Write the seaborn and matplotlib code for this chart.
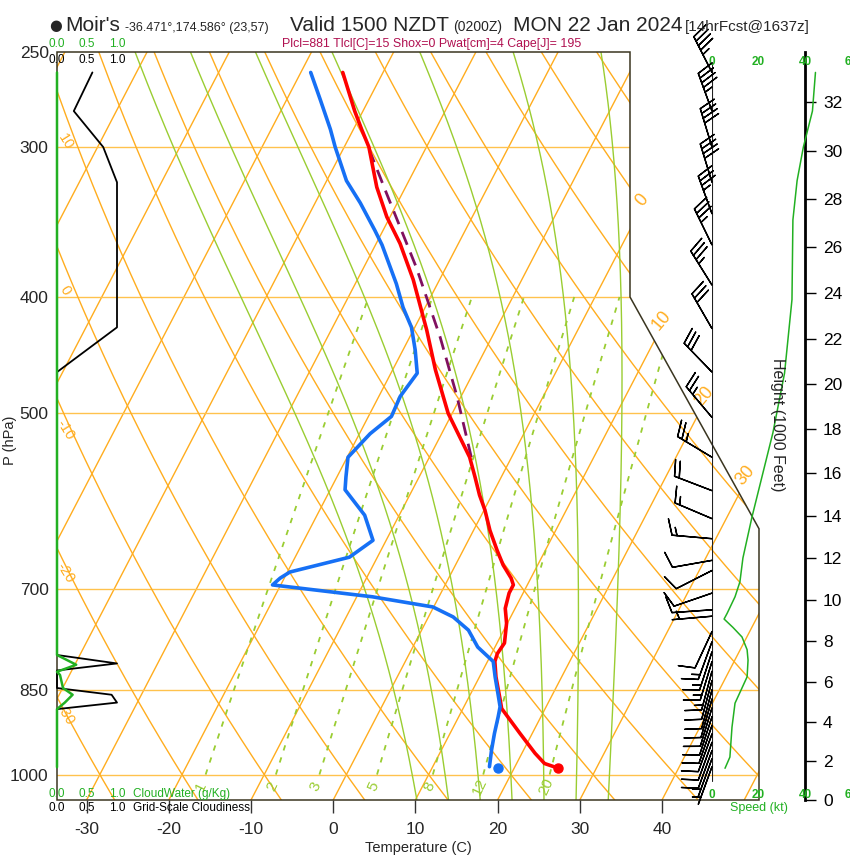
import numpy as np
import matplotlib
matplotlib.use("Agg")
import matplotlib.pyplot as plt
import seaborn as sns
from matplotlib.patches import Polygon
from matplotlib.ticker import NullLocator

# ==========================================
# DATOS DEL SONDEO
# ==========================================
temp_p = [988, 979, 960, 924, 881, 867, 829, 805, 793, 777, 748, 727, 706, 695, 686,
          669, 650, 626, 602, 585, 565, 544, 500, 460, 426, 387, 361, 343, 324, 300, 290, 280, 260]
temp_c = [25.4, 23.4, 21.6, 18.5, 14.7, 14.0, 12.0, 10.9, 10.7, 10.9, 9.9, 8.8, 8.3, 8.3, 7.6,
          5.8, 4.1, 2.0, 0.1, -1.5, -3.2, -5.1, -10.5, -14.8, -18.4, -23.2, -27.1, -30.4, -33.5, -37.0, -39.0, -41.0, -44.9]

dew_p = [985, 954, 924, 895, 878, 856, 829, 805, 783, 758, 739, 725, 711, 695, 686, 678,
         659, 638, 608, 579, 565, 544, 520, 503, 484, 463, 443, 424, 408, 390, 362, 352,
         334, 320, 300, 290, 274, 260]
dew_c = [16.9, 16.1, 15.4, 14.8, 14.4, 13.3, 11.9, 10.7, 7.9, 5.7, 3.0, -0.1, -8.1, -21.0, -20.5, -19.7,
         -13.4, -11.6, -14.2, -18.2, -18.9, -19.9, -18.7, -17.2, -17.4, -16.8, -18.5, -20.4, -22.7, -25.0, -29.2, -31.0,
         -34.5, -37.6, -41.1, -42.8, -45.9, -48.8]

parcel_p = [544, 484, 432, 378, 328, 302]
parcel_c = [-4.9, -10.5, -16.3, -23.6, -31.9, -36.7]

sfc_p = 988
sfc_t = 25.4
sfc_td = 18.1

# nubosidad (0-1) y agua de nube (g/kg)
cloud_p = [260, 280, 300, 321, 328, 424, 462, 795, 808, 819, 847, 858, 871, 882, 986]
cloud_frac = [0.59, 0.28, 0.77, 1.0, 1.0, 1.0, 0.0, 0.0, 1.0, 0.0, 0.0, 0.91, 1.0, 0.0, 0.0]
cw_p = [260, 795, 810, 821, 826, 847, 858, 871, 882, 986]
cw_gkg = [0.0, 0.0, 0.32, 0.0, 0.05, 0.10, 0.26, 0.13, 0.0, 0.0]

# perfil de velocidad del viento (kt)
spd_p = [988, 967, 913, 872, 829, 803, 787, 768, 754, 742, 734, 711, 691, 660, 610,
         519, 463, 402, 345, 320, 300, 280, 260]
spd_kt = [5.6, 7.7, 8.6, 9.9, 15.1, 15.5, 15.1, 12.9, 9.0, 5.2, 6.5, 9.9, 12.0, 13.3, 17.2,
          26.2, 31.2, 34.4, 34.8, 36.6, 39.3, 43.2, 44.5]

# barbas de viento: presion, velocidad (kt), direccion de procedencia (grados)
barb_p = [260, 280, 300, 321, 341, 362, 391, 425, 462, 504, 544, 580, 612, 636, 663, 676,
          706, 729, 738, 760, 775, 790, 805, 820, 835, 850, 865, 880, 895, 910, 925, 940,
          955, 970, 985]
barb_spd = [45, 45, 40, 40, 35, 35, 35, 30, 30, 25, 25, 20, 15, 15, 10, 10,
            10, 10, 5, 10, 15, 15, 15, 15, 10, 10, 10, 10, 10, 10, 10, 10,
            10, 5, 5]
barb_dir = [333, 340, 343, 343, 340, 334, 328, 330, 316, 320, 301, 291, 293, 275, 260, 243,
            251, 266, 265, 205, 200, 198, 197, 195, 195, 195, 196, 197, 198, 199, 200, 200,
            200, 200, 200]

# ejes y etiquetas
p_ticks = [250, 300, 400, 500, 700, 850, 1000]
t_ticks = [-30, -20, -10, 0, 10, 20, 30, 40]
height_ticks = list(range(0, 34, 2))
speed_ticks = [0, 20, 40, 60]
isobars = [300, 400, 500, 700, 850, 1000]
isotherms = list(range(-110, 60, 10))
dry_thetas = list(range(-40, 160, 10))
moist_tw = [8, 12, 16, 20, 24, 28, 32]
mix_ratios = [1, 2, 3, 5, 8, 12, 20]
dry_lab_theta = [10, 0, -10, -20, -30]
dry_lab_p = [297, 395, 516, 679, 892]
iso_lab_t = [0, 10, 20, 30]
iso_lab_p = [332, 418, 484, 563]

# ==========================================
# CONSTANTES DE ESTILO
# ==========================================
W, H = 850, 860
P_BOT, P_TOP = 1050.0, 250.0
SKEW = 33.0
X_MIN, X_MAX = -33.6, 51.8
ORANGE = "#FFAD1F"
ORANGE_LIGHT = "#FFC24D"
LGREEN = "#9ACD32"
GREEN = "#22B022"
RED = "#FF0000"
BLUE = "#1670F5"
PURPLE = "#80105F"
CRIMSON = "#B01050"


def skew_x(t, p):
    return np.asarray(t, float) + SKEW * np.log(P_BOT / np.asarray(p, float))


def px_box(x0, y0, x1, y1):
    return [x0 / W, 1 - y1 / H, (x1 - x0) / W, (y1 - y0) / H]


def p_to_kft(p):
    p = np.clip(np.asarray(p, float), 1e-3, None)
    return (288.15 / 0.0065) * (1 - (p / 1013.25) ** 0.190263) / 0.3048 / 1000


def kft_to_p(h):
    h = np.asarray(h, float)
    base = np.clip(1 - h * 1000 * 0.3048 * 0.0065 / 288.15, 1e-6, None)
    return 1013.25 * base ** 5.25588


def sat_mix(t_k, p):
    es = 6.112 * np.exp(17.67 * (t_k - 273.15) / (t_k - 29.65))
    return 0.622 * es / (p - es)


def moist_adiabat(tw):
    # integra la pseudoadiabatica desde 1000 hPa hacia arriba y hacia abajo
    out = {}
    for p_end, step in ((P_TOP, -2.0), (P_BOT, 2.0)):
        t = tw + 273.15
        p = 1000.0
        ps, ts = [p], [t]
        while (p > p_end) if step < 0 else (p < p_end):
            rs = sat_mix(t, p)
            dtdp = (287.04 * t + 2.501e6 * rs) / (p * (1005.7 + 2.501e6 ** 2 * rs * 0.622 / (287.04 * t * t)))
            t += dtdp * step
            p += step
            ps.append(p)
            ts.append(t)
        out[step] = (np.array(ps), np.array(ts) - 273.15)
    up, down = out[-2.0], out[2.0]
    return np.concatenate([down[0][::-1], up[0][1:]]), np.concatenate([down[1][::-1], up[1][1:]])


def mix_dewpoint(w, p):
    e = w * p / (622.0 + w)
    a = np.log(e / 6.112)
    return 243.5 * a / (17.67 - a)


# ==========================================
# FIGURA
# ==========================================
sns.set_theme(style="white")
plt.rcParams["font.family"] = ["Liberation Sans", "DejaVu Sans"]

fig = plt.figure(figsize=(W / 100, H / 100), dpi=100)
fig.patch.set_facecolor("white")

ax = fig.add_axes(px_box(57, 52, 759, 800))
ax.set_yscale("log")
ax.set_ylim(P_BOT, P_TOP)
ax.set_xlim(X_MIN, X_MAX)
ax.set_facecolor("white")
for s in ax.spines.values():
    s.set_visible(False)

x_corner = X_MIN + (630 - 57) / 702 * (X_MAX - X_MIN)
frame = Polygon([(X_MIN, P_TOP), (x_corner, P_TOP), (x_corner, 400), (X_MAX, 624),
                 (X_MAX, P_BOT), (X_MIN, P_BOT)], closed=True, fill=False,
                ec="#3a3520", lw=1.1, transform=ax.transData, clip_on=False, zorder=6)
ax.add_patch(frame)

p_line = np.geomspace(P_BOT, P_TOP, 300)

# isotermas
for t in isotherms:
    ax.plot(skew_x(t, p_line), p_line, color=ORANGE, lw=1.0, clip_path=frame, zorder=1)
# isobaras
for p in isobars:
    ax.plot([X_MIN, X_MAX], [p, p], color=ORANGE_LIGHT, lw=1.0, clip_path=frame, zorder=1)
# adiabaticas secas
for th in dry_thetas:
    t = (th + 273.15) * (p_line / 1000.0) ** 0.2857 - 273.15
    ax.plot(skew_x(t, p_line), p_line, color=ORANGE, lw=1.0, clip_path=frame, zorder=1)
# adiabaticas humedas
for tw in moist_tw:
    pp, tt = moist_adiabat(tw)
    ax.plot(skew_x(tt, pp), pp, color=LGREEN, lw=1.0, clip_path=frame, zorder=1)
# razon de mezcla
p_mix = np.geomspace(1000, 400, 100)
for w in mix_ratios:
    td = mix_dewpoint(w, p_mix)
    ax.plot(skew_x(td, p_mix), p_mix, color=LGREEN, lw=1.3, ls=(0, (3, 4)),
            clip_path=frame, zorder=1)
    ax.text(skew_x(mix_dewpoint(w, 1024), 1024), 1024, str(w), color=LGREEN,
            fontsize=11, rotation=65, ha="center", va="center", zorder=2)

# etiquetas de adiabaticas e isotermas
for th, p in zip(dry_lab_theta, dry_lab_p):
    ax.text(X_MIN + 1.0, p, str(th), color=ORANGE, fontsize=10.5, rotation=-58,
            ha="center", va="center", zorder=2)
for t, p in zip(iso_lab_t, iso_lab_p):
    ax.text(skew_x(t, p) - 0.4, p, str(t), color=ORANGE, fontsize=13, rotation=50,
            ha="center", va="center", zorder=2)

# perfiles
ax.plot(skew_x(parcel_c, parcel_p), parcel_p, color=PURPLE, lw=2.0, ls=(0, (5, 3)), zorder=4)
ax.plot(skew_x(temp_c, temp_p), temp_p, color=RED, lw=2.6, zorder=5, solid_capstyle="round")
ax.plot(skew_x(dew_c, dew_p), dew_p, color=BLUE, lw=2.6, zorder=5, solid_capstyle="round")
ax.plot(skew_x(sfc_t, sfc_p), sfc_p, "o", color=RED, ms=6.5, zorder=6)
ax.plot(skew_x(sfc_td, sfc_p), sfc_p, "o", color=BLUE, ms=6.5, zorder=6)

# ejes principales
ax.yaxis.set_minor_locator(NullLocator())
ax.set_yticks(p_ticks)
ax.set_yticklabels([str(p) for p in p_ticks])
ax.set_xticks(t_ticks)
ax.set_xticklabels([str(t) for t in t_ticks])
ax.tick_params(axis="x", direction="out", length=9, width=1, color="#333333",
               labelsize=12.5, pad=7, bottom=True)
ax.tick_params(axis="y", length=0, labelsize=12.5, pad=6, left=True)
ax.grid(False)

# eje de altura (1000 ft)
sec = ax.secondary_yaxis((805 - 57) / 702, functions=(p_to_kft, kft_to_p))
sec.set_yticks(height_ticks)
sec.set_yticklabels([str(h) for h in height_ticks])
sec.yaxis.set_minor_locator(NullLocator())
sec.tick_params(direction="out", length=8, width=1, labelsize=12.5, pad=5, colors="black")
for s in sec.spines.values():
    s.set_linewidth(2)
    s.set_color("black")

# ==========================================
# PANEL DE NUBES (izquierda)
# ==========================================
axc = fig.add_axes(px_box(57, 52, 117, 800))
axc.set_yscale("log")
axc.set_ylim(P_BOT, P_TOP)
axc.set_xlim(0, 1)
axc.axis("off")
axc.plot(cloud_frac, cloud_p, color="black", lw=1.3, clip_on=False, zorder=3)
axc.plot(cw_gkg, cw_p, color=GREEN, lw=1.8, clip_on=False, zorder=4)
tr = axc.get_xaxis_transform()
for v in [0.0, 0.5, 1.0]:
    axc.text(v, 1.0107, f"{v:.1f}", color=GREEN, fontsize=8.5, ha="center", va="center", transform=tr)
    axc.text(v, 0.9893, f"{v:.1f}", color="black", fontsize=8.5, ha="center", va="center", transform=tr)
    axc.text(v, 0.008, f"{v:.1f}", color=GREEN, fontsize=8.5, ha="center", va="center", transform=tr)
    axc.text(v, -0.0107, f"{v:.1f}", color="black", fontsize=8.5, ha="center", va="center", transform=tr)
axc.text(1.27, 0.008, "CloudWater (g/Kg)", color=GREEN, fontsize=8.5, ha="left", va="center", transform=tr)
axc.text(1.27, -0.0107, "Grid-Scale Cloudiness", color="black", fontsize=8.5, ha="left", va="center", transform=tr)

# ==========================================
# PANEL DE VIENTO (derecha)
# ==========================================
axs = fig.add_axes(px_box(712, 52, 851.5, 800))
axs.set_yscale("log")
axs.set_ylim(P_BOT, P_TOP)
axs.set_xlim(0, 60)
axs.axis("off")
axs.plot([0, 0], [1013, 255], color="#222222", lw=0.8, zorder=2)
axs.plot(spd_kt, spd_p, color=GREEN, lw=1.1, zorder=3, clip_on=False)
rad = np.deg2rad(barb_dir)
u = -np.array(barb_spd) * np.sin(rad)
v = -np.array(barb_spd) * np.cos(rad)
axs.barbs(np.zeros(len(barb_p)), barb_p, u, v, length=7.6, lw=1.0, color="black",
          zorder=4, clip_on=False)
trs = axs.get_xaxis_transform()
for s in speed_ticks:
    axs.text(s, 0.9866, str(s), color=GREEN, fontsize=8.5, fontweight="bold",
             ha="center", va="center", transform=trs, clip_on=False)
    axs.text(s, 0.0067, str(s), color=GREEN, fontsize=8.5, fontweight="bold",
             ha="center", va="center", transform=trs, clip_on=False)
axs.text(20, -0.0107, "Speed (kt)", color=GREEN, fontsize=9, ha="center", va="center", transform=trs)

# ==========================================
# TEXTOS
# ==========================================
def ftext(x, y, s, **kw):
    fig.text(x / W, 1 - y / H, s, **kw)

ftext(10, 440, "P (hPa)", fontsize=10.5, rotation=90, ha="center", va="center")
ftext(418, 848, "Temperature (C)", fontsize=10.5, ha="center", va="center")
ftext(778, 425, "Height (1000 Feet)", fontsize=11.5, rotation=-90, ha="center", va="center")

ftext(49, 30, "\u25CF", fontsize=10.5, ha="left", va="baseline", family=["DejaVu Sans"])
ftext(65, 31, "Moir's", fontsize=15, ha="left", va="baseline")
ftext(125, 31, "-36.471\u00b0,174.586\u00b0 (23,57)", fontsize=9, ha="left", va="baseline")
ftext(290, 31, "Valid 1500 NZDT", fontsize=15, ha="left", va="baseline")
ftext(453, 31, "(0200Z)", fontsize=10, ha="left", va="baseline")
ftext(513, 31, "MON 22 Jan 2024", fontsize=15, ha="left", va="baseline")
ftext(685, 31, "[14hrFcst@1637z]", fontsize=11, ha="left", va="baseline")
ftext(432, 44, "Plcl=881 Tlcl[C]=15 Shox=0 Pwat[cm]=4 Cape[J]= 195", fontsize=8.9,
      color=CRIMSON, ha="center", va="center")

fig.savefig("out.png", dpi=100)
